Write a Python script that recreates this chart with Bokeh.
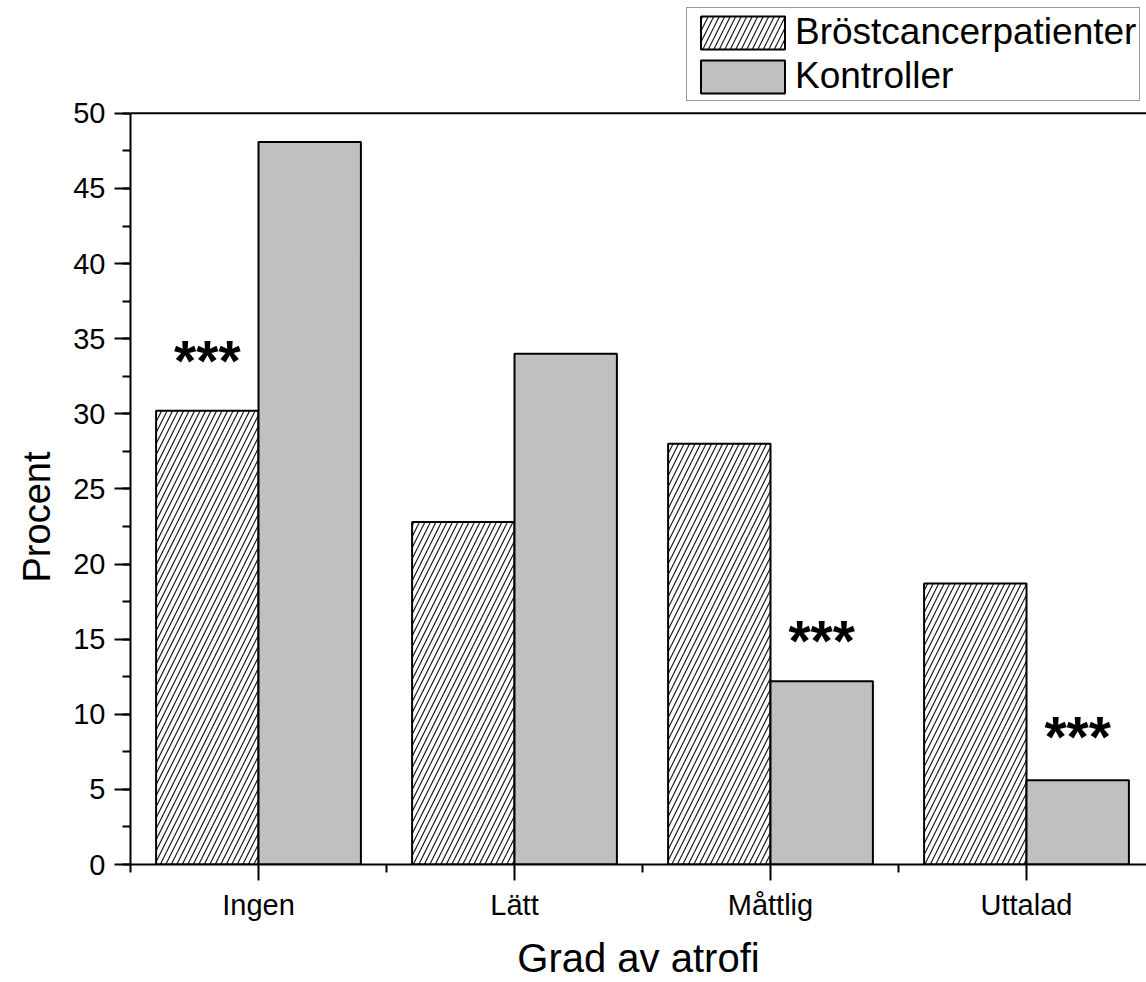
import numpy as np
from bokeh.plotting import figure
from bokeh.models import (Range1d, FixedTicker, SingleIntervalTicker, Span, Title,
                          Legend, LegendItem, ColumnDataSource)
from bokeh.core.properties import value
from bokeh.embed import file_html
from bokeh.resources import INLINE

# ---- data ----
categories = ["Ingen", "Lätt", "Måttlig", "Uttalad"]
patients = [30.2, 22.8, 28.0, 18.7]
controls = [48.1, 34.0, 12.2, 5.6]
series_names = ["Bröstcancerpatienter", "Kontroller"]
sig_categories = ["Ingen", "Måttlig", "Uttalad"]
sig_series = [0, 1, 1]            # 0 = patients, 1 = controls
sig_levels = [33.5, 14.85, 8.5]   # where the "***" marks sit (Procent)
sig_text = "***"
x_title = "Grad av atrofi"
y_title = "Procent"
y_max = 50
y_interval = 5

# ---- layout ----
FONT = "Liberation Sans"
W, H = 1146, 982
LEFT = 130
FRAME_BOTTOM = 865        # canvas y of value 0
AXIS_TOP = 113            # canvas y of value y_max
PX_PER_CAT = 256
BAR_W = 0.4

xc = np.arange(1, len(categories) + 1, dtype=float)
x_end = 0.5 + (W - LEFT) / PX_PER_CAT
px_per_unit = (FRAME_BOTTOM - AXIS_TOP) / y_max
y_end = y_max + AXIS_TOP / px_per_unit

p = figure(width=W, height=H, output_backend="svg", toolbar_location=None,
           x_range=Range1d(0.5, x_end), y_range=Range1d(0, y_end),
           min_border_left=LEFT, min_border_top=0,
           min_border_bottom=H - FRAME_BOTTOM, min_border_right=0)
p.outline_line_color = None
p.grid.visible = False
p.background_fill_color = "white"
p.border_fill_color = "white"

src_p = ColumnDataSource(dict(x=xc - BAR_W / 2, top=patients))
src_c = ColumnDataSource(dict(x=xc + BAR_W / 2, top=controls))

r1 = p.vbar(x="x", top="top", bottom=0, width=BAR_W, source=src_p,
            fill_color="white", line_color="black", line_width=2,
            hatch_pattern="/", hatch_color="#1a1a1a", hatch_weight=1.2,
            hatch_scale=11)
r2 = p.vbar(x="x", top="top", bottom=0, width=BAR_W, source=src_c,
            fill_color="#c0c0c0", line_color="black", line_width=2)

# top border of the axes box
p.add_layout(Span(location=y_max, dimension="width", line_color="black",
                  line_width=2))

# significance stars
sx = []
for cat, s in zip(sig_categories, sig_series):
    i = categories.index(cat)
    sx.append(xc[i] - BAR_W / 2 if s == 0 else xc[i] + BAR_W / 2)
p.text(x=sx, y=sig_levels, text=[sig_text] * len(sx), text_align="center",
       text_baseline="middle", text_font=value(FONT), text_font_size="57px",
       text_font_style="bold", text_color="black")

# axes
for ax in (p.xaxis[0], p.yaxis[0]):
    ax.axis_line_width = 2
    ax.major_tick_line_width = 2
    ax.minor_tick_line_width = 2
    ax.major_tick_out = 16
    ax.major_tick_in = 0
    ax.minor_tick_out = 8
    ax.minor_tick_in = 0
    ax.major_label_text_font = FONT
    ax.major_label_text_font_size = "29px"
    ax.major_label_text_color = "black"
    ax.axis_label_text_font = FONT
    ax.axis_label_text_font_size = "40px"
    ax.axis_label_text_font_style = "normal"
    ax.axis_label_text_color = "black"

minor_x = list(np.arange(0.5, len(categories) + 1, 1.0))
p.xaxis.ticker = FixedTicker(ticks=list(xc), minor_ticks=minor_x)
p.xaxis.major_label_overrides = {int(v): c for v, c in zip(xc, categories)}
p.xaxis.major_label_standoff = 8
p.xaxis.axis_label = x_title
p.xaxis.axis_label_standoff = 12

p.yaxis.ticker = SingleIntervalTicker(interval=y_interval, num_minor_ticks=2)
p.yaxis.bounds = (0, y_max)
p.yaxis.major_label_standoff = 9

# y title as a side-panel title so it can sit where the reference has it
ytitle = Title(text=y_title, align="left", offset=282, standoff=26,
               text_font=FONT, text_font_size="38px", text_font_style="normal",
               text_color="black")
p.add_layout(ytitle, "left")

# legend (inside the tall frame, above the axes box, cut off at right)
legend = Legend(items=[LegendItem(label=series_names[0], renderers=[r1]),
                       LegendItem(label=series_names[1], renderers=[r2])],
                location=(556, FRAME_BOTTOM - 4 - 98))
legend.glyph_width = 105
legend.glyph_height = 41
legend.label_height = 33
legend.label_standoff = 0
legend.spacing = 2
legend.padding = 3
legend.margin = 0
legend.label_text_font = FONT
legend.label_text_font_size = "37px"
legend.label_text_color = "black"
legend.border_line_color = "#333333"
legend.border_line_width = 1.5
legend.background_fill_color = "white"
legend.background_fill_alpha = 1.0
p.add_layout(legend, "center")

open("out.html", "w").write(file_html(p, INLINE))
